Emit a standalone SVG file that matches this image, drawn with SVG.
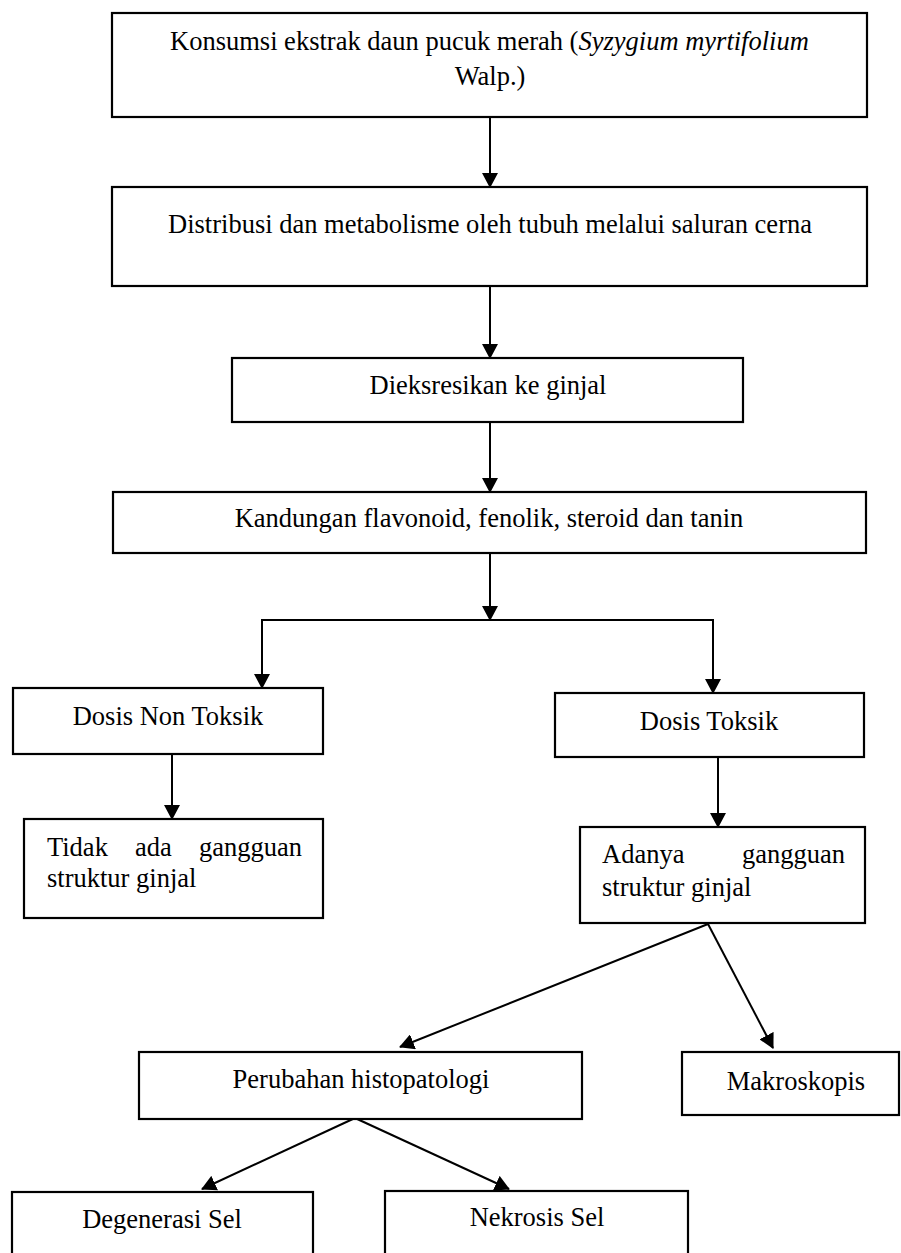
<svg xmlns="http://www.w3.org/2000/svg" width="901" height="1253" viewBox="0 0 901 1253">
<style>
.box{fill:#fff;stroke:#000;stroke-width:2.2}
.t{font-family:"Liberation Serif","Times New Roman",serif;font-size:26.5px;fill:#000}
.c{text-anchor:middle}
.e{text-anchor:end}
.ln{stroke:#000;stroke-width:2;fill:none}
</style>
<defs>
<marker id="ah" markerUnits="userSpaceOnUse" markerWidth="15" markerHeight="16" refX="14" refY="8" orient="auto">
<path d="M0,0 L15,8 L0,16 z" fill="#000"/>
</marker>
</defs>
<rect width="901" height="1253" fill="#fff"/>
<g id="connectors">
<line class="ln" x1="490" y1="117" x2="490" y2="187" marker-end="url(#ah)"/>
<line class="ln" x1="490" y1="286" x2="490" y2="358" marker-end="url(#ah)"/>
<line class="ln" x1="490" y1="422" x2="490" y2="492" marker-end="url(#ah)"/>
<line class="ln" x1="490" y1="553" x2="490" y2="620" marker-end="url(#ah)"/>
<polyline class="ln" points="262,688 262,620 713,620 713,693"/>
<line class="ln" x1="262" y1="660" x2="262" y2="688" marker-end="url(#ah)"/>
<line class="ln" x1="713" y1="660" x2="713" y2="693" marker-end="url(#ah)"/>
<line class="ln" x1="172" y1="754" x2="172" y2="819" marker-end="url(#ah)"/>
<line class="ln" x1="718" y1="757" x2="718" y2="827" marker-end="url(#ah)"/>
<line class="ln" x1="708" y1="924" x2="400" y2="1047" marker-end="url(#ah)"/>
<line class="ln" x1="708" y1="924" x2="773" y2="1048" marker-end="url(#ah)"/>
<line class="ln" x1="355" y1="1118" x2="202" y2="1189" marker-end="url(#ah)"/>
<line class="ln" x1="355" y1="1118" x2="509" y2="1189" marker-end="url(#ah)"/>
</g>
<g id="n1">
<rect class="box" x="112" y="13" width="755" height="104"/>
<text class="t" x="170" y="50">Konsumsi ekstrak daun pucuk merah (<tspan font-style="italic">Syzygium myrtifolium</tspan></text>
<text class="t c" x="490" y="85">Walp.)</text>
</g>
<g id="n2">
<rect class="box" x="112" y="187" width="755" height="99"/>
<text class="t c" x="490" y="233">Distribusi dan metabolisme oleh tubuh melalui saluran cerna</text>
</g>
<g id="n3">
<rect class="box" x="232" y="358" width="511" height="64"/>
<text class="t c" x="488" y="394">Dieksresikan ke ginjal</text>
</g>
<g id="n4">
<rect class="box" x="113" y="492" width="753" height="61"/>
<text class="t c" x="489" y="527">Kandungan flavonoid, fenolik, steroid dan tanin</text>
</g>
<g id="n5">
<rect class="box" x="13" y="688" width="310" height="66"/>
<text class="t c" x="168" y="725">Dosis Non Toksik</text>
</g>
<g id="n6">
<rect class="box" x="555" y="693" width="309" height="64"/>
<text class="t c" x="709" y="730">Dosis Toksik</text>
</g>
<g id="n7">
<rect class="box" x="24" y="819" width="299" height="99"/>
<text class="t" x="47" y="856">Tidak</text>
<text class="t" x="135" y="856">ada</text>
<text class="t e" x="302" y="856">gangguan</text>
<text class="t" x="47" y="887">struktur ginjal</text>
</g>
<g id="n8">
<rect class="box" x="580" y="827" width="285" height="96"/>
<text class="t" x="602" y="863">Adanya</text>
<text class="t e" x="845" y="863">gangguan</text>
<text class="t" x="602" y="896">struktur ginjal</text>
</g>
<g id="n9">
<rect class="box" x="139" y="1052" width="443" height="67"/>
<text class="t c" x="361" y="1088">Perubahan histopatologi</text>
</g>
<g id="n10">
<rect class="box" x="682" y="1052" width="217" height="63"/>
<text class="t c" x="796" y="1090">Makroskopis</text>
</g>
<g id="n11">
<rect class="box" x="12" y="1192" width="301" height="80"/>
<text class="t c" x="162" y="1228">Degenerasi Sel</text>
</g>
<g id="n12">
<rect class="box" x="385" y="1191" width="303" height="80"/>
<text class="t c" x="537" y="1226">Nekrosis Sel</text>
</g>
</svg>
